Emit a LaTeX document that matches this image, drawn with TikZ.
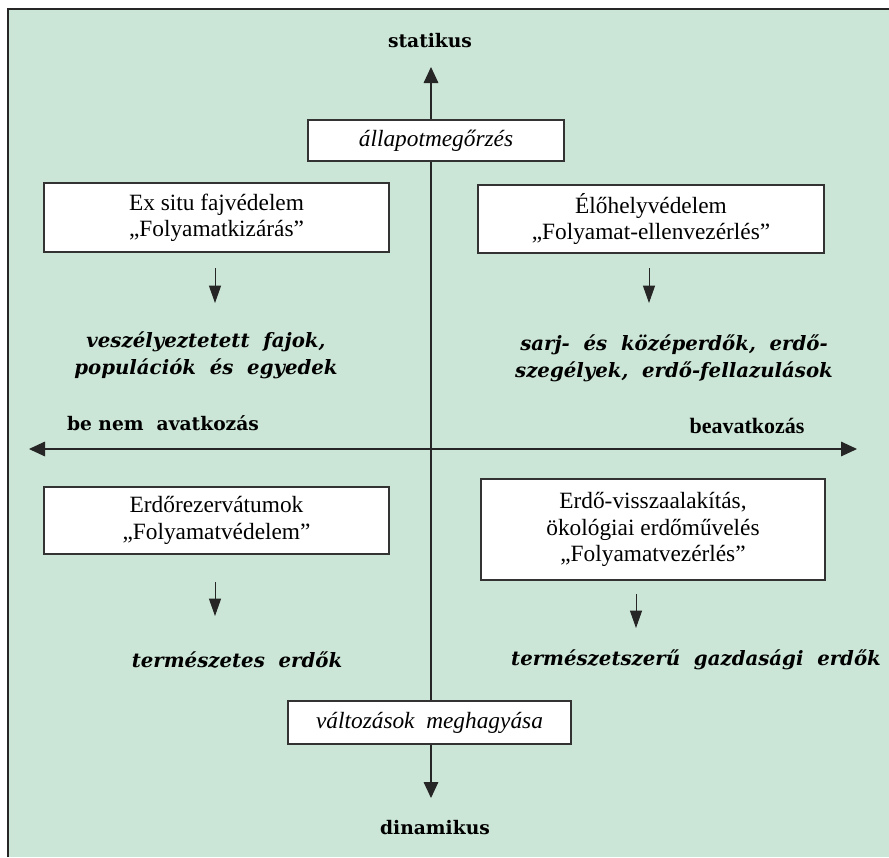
\documentclass[tikz,border=0pt]{standalone}
\usepackage{fontspec}
\setmainfont{Liberation Serif}
\newfontfamily\dejaserif{DejaVu Serif}
\usetikzlibrary{arrows.meta}
\definecolor{bg}{RGB}{203,229,214}
\newcommand\pxl[1]{#1*0.75pt}
\begin{document}
\begin{tikzpicture}[x=0.75pt,y=-0.75pt,
  box/.style={draw=black!80, line width=0.9pt, fill=white, inner sep=0pt, align=center,
    font=\fontsize{17.5}{19.8}\selectfont},
  ibox/.style={box, font=\fontsize{17.5}{20}\selectfont\itshape},
  outcome/.style={align=center, inner sep=0pt,
    font=\dejaserif\bfseries\itshape\fontsize{14.8}{20.25}\selectfont},
  axislabel/.style={inner sep=0pt, font=\dejaserif\bfseries\fontsize{14}{16}\selectfont},
  axislabelb/.style={inner sep=0pt, font=\bfseries\fontsize{16.5}{18}\selectfont},
  axis/.style={draw=black!85, line width=0.8pt, {Triangle[length=12pt,width=11pt]}-{Triangle[length=12pt,width=11pt]}},
  smallarrow/.style={draw=black!85, line width=0.7pt, -{Triangle[length=13pt,width=9pt]}}
]
\useasboundingbox (0,0) rectangle (889,857);
\fill[bg] (8,9) rectangle (889,857);
\draw[line width=1.2pt, black!85] (8,857) -- (8,9) -- (889,9);

% axes
\coordinate (ytop) at (431,67);
\coordinate (ybot) at (431,798);
\coordinate (xleft) at (29,449);
\coordinate (xright) at (857,449);
\draw[axis] (ytop) -- (ybot);
\draw[axis] (xleft) -- (xright);

% axis labels
\node[axislabel] (stat) at (430,41) {statikus};
\node[axislabel] (din) at (435,828) {dinamikus};
\node[axislabel] (benem) at (163,423) {be nem\ \ avatkozás};
\node[axislabelb] (beav) at (747,426) {beavatkozás};

% boxes
\node[ibox, minimum width=\pxl{256}, minimum height=\pxl{41}] (allap) at (436,140.5) {állapotmegőrzés};
\node[ibox, minimum width=\pxl{283}, minimum height=\pxl{43}] (valt) at (429.5,722.5) {változások\ \ meghagyása};
\node[box, minimum width=\pxl{345}, minimum height=\pxl{69}] (exsitu) at (216.5,217.5) {Ex situ fajvédelem\\„Folyamatkizárás”};
\node[box, minimum width=\pxl{346}, minimum height=\pxl{68}] (eloh) at (651,219) {Élőhelyvédelem\\„Folyamat-ellenvezérlés”};
\node[box, minimum width=\pxl{345}, minimum height=\pxl{67}] (rez) at (216.5,520.5) {Erdőrezervátumok\\„Folyamatvédelem”};
\node[box, minimum width=\pxl{344}, minimum height=\pxl{101}] (visz) at (653,529.5) {Erdő-visszaalakítás,\\ökológiai erdőművelés\\„Folyamatvezérlés”};

% outcomes
\node[outcome] (o1) at (206,355) {veszélyeztetett\ \ fajok,\\populációk\ \ és\ \ egyedek};
\node[outcome] (o2) at (674,358) {sarj-\ \ és\ \ középerdők,\ \ erdő-\\szegélyek,\ \ erdő-fellazulások};
\node[outcome] (o3) at (237,660) {természetes\ \ erdők};
\node[outcome] (o4) at (696,660) {természetszerű\ \ gazdasági\ \ erdők};

% small arrows
\coordinate (a1s) at (215,268); \coordinate (a1e) at (215,303);
\coordinate (a2s) at (649,268); \coordinate (a2e) at (649,303);
\coordinate (a3s) at (215,582); \coordinate (a3e) at (215,616);
\coordinate (a4s) at (636,594); \coordinate (a4e) at (636,628);
\draw[smallarrow] (a1s) -- (a1e);
\draw[smallarrow] (a2s) -- (a2e);
\draw[smallarrow] (a3s) -- (a3e);
\draw[smallarrow] (a4s) -- (a4e);
\end{tikzpicture}
\end{document}
